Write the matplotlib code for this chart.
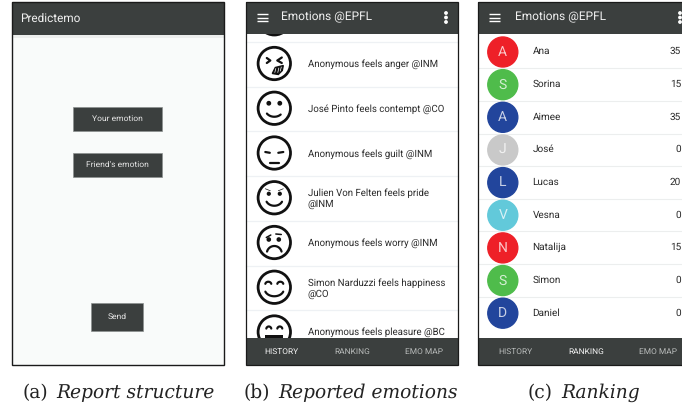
import numpy as np
import matplotlib
matplotlib.use('Agg')
import matplotlib.pyplot as plt
from matplotlib.patches import Rectangle, Circle, Polygon

plt.rcParams['text.hinting'] = 'none'

# Text content
report_buttons = ["Your emotion", "Friend's emotion", "Send"]
tabs = ['HISTORY', 'RANKING', 'EMO MAP']
captions = ['(a)', '(b)', '(c)']
caption_titles = ['Report structure', 'Reported emotions', 'Ranking']
feed_lines = [
    'Anonymous feels anger @INM',
    'José Pinto feels contempt @CO',
    'Anonymous feels guilt @INM',
    'Julien Von Felten feels pride\n@INM',
    'Anonymous feels worry @INM',
    'Simon Narduzzi feels happiness\n@CO',
    'Anonymous feels pleasure @BC',
]
feed_faces = ['anger', 'contempt', 'guilt', 'pride', 'worry', 'happiness', 'pleasure']
names = ['Ana', 'Sorina', 'Aimee', 'José', 'Lucas', 'Vesna', 'Natalija', 'Simon', 'Daniel']
scores = [35, 15, 35, 0, 20, 0, 15, 0, 0]
avatar_colors = ['#ee2028', '#4fbc4b', '#22459c', '#c9c9c9', '#22459c',
                 '#62c9da', '#ee2028', '#4fbc4b', '#22459c']

DARK = '#3b3f3e'
UI = 'Roboto'

fig = plt.figure(figsize=(6.82, 4.12), dpi=100)
ax = fig.add_axes([0, 0, 1, 1])
ax.set_xlim(0, 682)
ax.set_ylim(412, 0)
ax.axis('off')


def rect(x0, y0, x1, y1, color, z=1, edge='none', lw=0):
    r = Rectangle((x0, y0), x1 - x0, y1 - y0, facecolor=color, edgecolor=edge, linewidth=lw, zorder=z)
    ax.add_patch(r)
    return r


def label(x, y, s, size=6.9, color='#2a2a2a', ha='left', **kw):
    return ax.text(x, y, s, fontsize=size, color=color, ha=ha, va='center',
                   family=kw.pop('family', UI), zorder=kw.pop('zorder', 6), **kw)


def stroke(xs, ys, clip, lw=1.6, color='#111111'):
    line, = ax.plot(xs, ys, color=color, lw=lw, solid_capstyle='round', zorder=3)
    line.set_clip_path(clip)


def arc(cx, cy, rx, ry, t0, t1, clip, lw=1.6):
    t = np.radians(np.linspace(t0, t1, 30))
    stroke(cx + rx * np.cos(t), cy + ry * np.sin(t), clip, lw)


def face(cx, cy, kind, clip):
    c = Circle((cx, cy), 16.2, facecolor='white', edgecolor='#111111', linewidth=2.0, zorder=3)
    ax.add_patch(c)
    c.set_clip_path(clip)
    if kind == 'anger':
        stroke([cx - 7.5, cx - 4, cx - 7.5], [cy - 5.5, cy - 3, cy - 0.5], clip)
        stroke([cx + 7.5, cx + 3, cx + 7.5], [cy - 6, cy - 3, cy - 0.5], clip)
        m = Polygon([[cx - 2, cy + 10], [cx + 1, cy + 4], [cx + 9, cy + 2],
                     [cx + 8, cy + 7], [cx + 4, cy + 11]], closed=True,
                    facecolor='#111111', edgecolor='#111111', zorder=3)
        ax.add_patch(m)
        stroke([cx + 0.5, cx + 1.5], [cy + 9, cy + 5], clip, 0.5, 'white')
        stroke([cx + 3.5, cx + 4.5], [cy + 9, cy + 4.5], clip, 0.5, 'white')
        stroke([cx + 6, cx + 7], [cy + 7.5, cy + 3.5], clip, 0.5, 'white')
    elif kind == 'contempt':
        for dx in (-5.5, 5.5):
            ax.add_patch(Circle((cx + dx, cy - 5), 1.7, color='#111111', zorder=3))
        arc(cx, cy + 1, 9, 7.5, 45, 145, clip)
    elif kind == 'guilt':
        stroke([cx - 9, cx - 4.5], [cy - 1, cy - 0.2], clip)
        stroke([cx + 4, cx + 9], [cy - 0.2, cy - 1], clip)
        stroke([cx - 4.5, cx + 4.5], [cy + 10, cy + 10], clip)
    elif kind == 'pride':
        for dx in (-5.5, 5.5):
            ax.add_patch(Circle((cx + dx, cy - 4), 1.4, color='#111111', zorder=3))
        stroke([cx - 9, cx - 4], [cy - 9, cy - 7], clip, 0.5)
        stroke([cx + 9, cx + 4], [cy - 9, cy - 7], clip, 0.5)
        arc(cx, cy + 1, 8.5, 7, 25, 155, clip)
    elif kind == 'worry':
        stroke([cx - 8, cx - 3.5], [cy - 5, cy - 7.5], clip, 1.1)
        ax.add_patch(Circle((cx - 5.5, cy - 3), 1.6, color='#111111', zorder=3))
        ax.add_patch(Circle((cx + 4.5, cy - 3), 1.6, color='#111111', zorder=3))
        stroke([cx + 1.5, cx + 7], [cy - 8.5, cy - 8], clip, 1.1)
        arc(cx, cy + 11, 7.5, 7.5, 195, 345, clip)
    elif kind == 'happiness':
        arc(cx - 6, cy - 3, 3, 2.5, 190, 350, clip)
        arc(cx + 6, cy - 3, 3, 2.5, 190, 350, clip)
        arc(cx, cy + 2, 9.5, 7, 20, 160, clip)
    elif kind == 'pleasure':
        arc(cx - 5.5, cy - 3, 2.5, 2.5, 190, 350, clip)
        arc(cx + 5.5, cy - 3, 2.5, 2.5, 190, 350, clip)
        r = rect(cx - 9, cy + 3, cx + 9, cy + 9, '#111111', z=3)
        r.set_clip_path(clip)


def app_bar(x0, x1, y0, y1, title, title_x):
    rect(x0, y0, x1, y1, DARK, z=4)
    for dy in (-3.5, 0, 3.5):
        ax.plot([x0 + 11, x0 + 22], [(y0 + y1) / 2 + dy] * 2, color='white', lw=1.0, zorder=5,
                solid_capstyle='butt')
    label(title_x, (y0 + y1) / 2, title, size=8.6, color='#f1f1f1')


def tab_bar(x0, x1, y0, y1, active, xs):
    rect(x0, y0, x1, y1, DARK, z=4)
    for i, t in enumerate(tabs):
        label(xs[i], (y0 + y1) / 2 + 1, t, size=6.0,
              color='#f4f4f4' if i == active else '#b9bcbb', ha='center')


# (a) report screen
rect(11.5, 1.5, 224, 34.5, DARK, z=4)
rect(12, 34.5, 223.5, 38, '#eceeed', z=2)
rect(11.5, 1.5, 224, 364.5, '#f9fbfa', z=1)
rect(11.5, 1.5, 224, 364.5, 'none', z=5, edge='#1a1a1a', lw=1.0)
label(20, 18.5, 'Predictemo', size=8.5, color='#f1f1f1')
button_boxes = [(72.7, 106.7, 162, 130.5), (72.7, 153, 162, 176.7), (91, 302.7, 143, 331)]
for s, (x0, y0, x1, y1) in zip(report_buttons, button_boxes):
    rect(x0, y0, x1, y1, DARK, z=3, edge='#8c908f', lw=0.5)
    label((x0 + x1) / 2, (y0 + y1) / 2 + 0.3, s, size=6.1, color='#e6e6e6', ha='center')

# (b) feed screen
rect(245.5, 1.5, 458, 364.5, 'white', z=1)
rect(245.5, 1.5, 458, 364.5, 'none', z=5, edge='#1a1a1a', lw=0.9)
clip_b = Rectangle((245.5, 34), 212.5, 304, transform=ax.transData)
app_bar(245.5, 458, 1.5, 34, 'Emotions @EPFL', 281)
for dy in (-4.5, 0, 4.5):
    ax.add_patch(Circle((446, 17.5 + dy), 1.2, color='white', zorder=5))
tab_bar(245.5, 458, 337.7, 364.5, 0, [281, 352, 424])

row_b = 44.75
for i in range(8):
    ax.plot([246, 457.5], [41.8 + i * row_b] * 2, color='#eef1f4', lw=0.9, zorder=2)
face(274.3, 18.8, 'guilt', clip_b)
for i, (s, kind) in enumerate(zip(feed_lines, feed_faces)):
    cy = 63.5 + i * row_b
    face(274.3, cy, kind, clip_b)
    ty = cy + (1.3 if '\n' in s else 0.8)
    if i == 6:
        ty = cy + 0.3
    label(307.5, ty, s, linespacing=1.2)

# (c) ranking screen
rect(478, 1.5, 690, 364.5, 'white', z=1)
rect(478, 1.5, 690, 364.5, 'none', z=5, edge='#1a1a1a', lw=0.9)
app_bar(478, 682, 1.5, 34, 'Emotions @EPFL', 515)
for dy in (-4.5, 0, 4.5):
    ax.add_patch(Circle((680, 17.5 + dy), 1.2, color='white', zorder=5))
tab_bar(478, 682, 337.7, 364.5, 1, [515, 586, 658])

row_c = 32.65
for i, (n, v, col) in enumerate(zip(names, scores, avatar_colors)):
    cy = 52 + i * row_c
    if i < len(names) - 1:
        ax.plot([479, 682], [cy + 16.2] * 2, color='#eceeee', lw=0.8, zorder=2)
    ax.add_patch(Circle((502.8, cy), 15, color=col, zorder=3))
    label(502.8, cy, n[0], size=10, color='white', ha='center', alpha=0.75)
    label(532.5, cy - 0.5, n, size=7.2)
    label(681, cy - 0.5, str(v), size=7.2, ha='right')

# Captions under each screen
SERIF = 'DejaVu Serif'
cap_x = [23, 244, 528]
for x, a, t in zip(cap_x, captions, caption_titles):
    h = ax.text(x, 393, a, fontsize=13.4, family=SERIF, color='#222222', va='center', ha='left')
    fig.canvas.draw()
    bb = h.get_window_extent()
    end = ax.transData.inverted().transform((bb.x1, bb.y0))[0]
    ax.text(end + 8, 393, t, fontsize=13.4, family=SERIF, style='italic', color='#222222',
            va='center', ha='left')

fig.savefig('out.png', dpi=100)
